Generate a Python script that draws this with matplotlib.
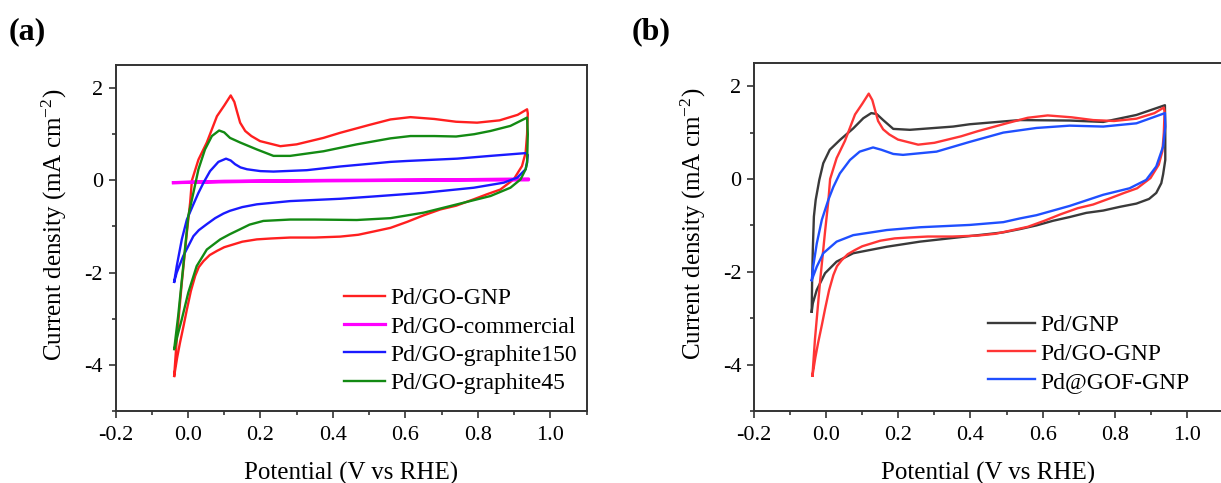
import numpy as np
import matplotlib
matplotlib.use("Agg")
import matplotlib.pyplot as plt
from matplotlib.ticker import MultipleLocator

plt.rcParams['font.family'] = ['Liberation Serif', 'DejaVu Serif']
plt.rcParams['mathtext.fontset'] = 'custom'
plt.rcParams['mathtext.rm'] = 'Liberation Serif'
plt.rcParams['mathtext.it'] = 'Liberation Serif:italic'
plt.rcParams['axes.unicode_minus'] = False

# ---- data (potential V vs RHE, current density mA cm-2)
# Pd/GO-GNP (same sample in both panels)
gnp_up_x = [-0.038, -0.031, -0.017, -0.003, 0.006, 0.011, 0.029, 0.052, 0.080, 0.100,
            0.118, 0.128, 0.135, 0.144, 0.158, 0.175, 0.199, 0.255, 0.300, 0.374,
            0.420, 0.500, 0.559, 0.614, 0.680, 0.740, 0.798, 0.860, 0.910, 0.936]
gnp_up_y = [-4.24, -3.45, -2.22, -1.13, -0.48, 0.00, 0.45, 0.82, 1.39, 1.62,
            1.84, 1.70, 1.50, 1.25, 1.07, 0.96, 0.85, 0.74, 0.78, 0.92,
            1.03, 1.20, 1.32, 1.37, 1.33, 1.27, 1.25, 1.30, 1.42, 1.54]
gnp_dn_x = [0.938, 0.936, 0.932, 0.922, 0.899, 0.862, 0.826, 0.789, 0.740, 0.697,
            0.650, 0.605, 0.559, 0.512, 0.470, 0.420, 0.350, 0.282, 0.230, 0.190,
            0.150, 0.125, 0.100, 0.080, 0.060, 0.043, 0.030, 0.020, 0.008, -0.003,
            -0.012, -0.022, -0.030, -0.038]
gnp_dn_y = [1.45, 1.00, 0.60, 0.31, 0.02, -0.20, -0.30, -0.41, -0.55, -0.63,
            -0.76, -0.90, -1.03, -1.11, -1.18, -1.22, -1.24, -1.24, -1.26, -1.28,
            -1.33, -1.39, -1.45, -1.53, -1.62, -1.75, -1.88, -2.07, -2.40, -2.80,
            -3.15, -3.52, -3.85, -4.24]

# Pd/GO-commercial
com_x = [-0.040, 0.10, 0.40, 0.70, 0.940, 0.940, 0.60, 0.20, -0.040]
com_y = [-0.05, -0.02, 0.00, 0.01, 0.03, 0.01, 0.00, -0.02, -0.05]

# Pd/GO-graphite150
g150_up_x = [-0.038, -0.031, -0.017, -0.003, 0.015, 0.029, 0.043, 0.061, 0.084, 0.105,
             0.118, 0.130, 0.145, 0.163, 0.200, 0.236, 0.328, 0.420, 0.559, 0.605,
             0.743, 0.835, 0.932]
g150_up_y = [-2.20, -1.86, -1.28, -0.85, -0.52, -0.27, -0.05, 0.20, 0.40, 0.47,
             0.43, 0.35, 0.28, 0.24, 0.20, 0.19, 0.22, 0.30, 0.40, 0.42,
             0.47, 0.53, 0.59]
g150_dn_x = [0.938, 0.936, 0.932, 0.909, 0.872, 0.789, 0.651, 0.512, 0.420, 0.282,
             0.190, 0.150, 0.116, 0.098, 0.075, 0.052, 0.030, 0.015, -0.013, -0.031,
             -0.038]
g150_dn_y = [0.55, 0.40, 0.24, 0.06, -0.05, -0.16, -0.27, -0.35, -0.40, -0.45,
             -0.52, -0.58, -0.66, -0.72, -0.82, -0.95, -1.08, -1.21, -1.64, -2.00,
             -2.20]

# Pd/GO-graphite45
g45_up_x = [-0.038, -0.027, -0.013, 0.001, 0.015, 0.029, 0.047, 0.066, 0.086, 0.100,
            0.116, 0.144, 0.190, 0.236, 0.282, 0.374, 0.466, 0.559, 0.614, 0.680,
            0.740, 0.790, 0.835, 0.890, 0.936]
g45_up_y = [-3.66, -2.94, -1.86, -0.77, -0.27, 0.24, 0.67, 0.96, 1.08, 1.04,
            0.92, 0.82, 0.67, 0.53, 0.53, 0.63, 0.78, 0.91, 0.96, 0.96,
            0.95, 1.00, 1.07, 1.18, 1.36]
g45_dn_x = [0.938, 0.936, 0.932, 0.918, 0.890, 0.835, 0.743, 0.651, 0.559, 0.466,
            0.350, 0.282, 0.208, 0.170, 0.144, 0.115, 0.089, 0.052, 0.024, 0.001,
            -0.017, -0.030, -0.036]
g45_dn_y = [1.00, 0.38, 0.24, 0.02, -0.16, -0.34, -0.52, -0.70, -0.82, -0.86,
            -0.85, -0.85, -0.88, -0.96, -1.06, -1.17, -1.28, -1.50, -1.86, -2.43,
            -3.01, -3.40, -3.62]

# Pd/GNP
pg_up_x = [-0.040, -0.039, -0.037, -0.034, -0.029, -0.019, -0.008, 0.010, 0.038, 0.075,
           0.103, 0.125, 0.140, 0.158, 0.186, 0.232, 0.352, 0.398, 0.537, 0.675,
           0.768, 0.860, 0.939]
pg_up_y = [-2.86, -2.25, -1.53, -0.81, -0.45, -0.02, 0.34, 0.63, 0.84, 1.09,
           1.31, 1.42, 1.40, 1.27, 1.08, 1.06, 1.13, 1.18, 1.27, 1.26,
           1.23, 1.38, 1.59]
pg_dn_x = [0.940, 0.940, 0.934, 0.929, 0.915, 0.895, 0.860, 0.814, 0.768, 0.721,
           0.675, 0.629, 0.583, 0.537, 0.491, 0.445, 0.398, 0.260, 0.168, 0.075,
           0.029, -0.003, -0.026, -0.037, -0.040]
pg_dn_y = [1.13, 0.41, 0.10, -0.09, -0.30, -0.43, -0.53, -0.60, -0.68, -0.73,
           -0.82, -0.90, -1.00, -1.08, -1.15, -1.19, -1.23, -1.35, -1.46, -1.60,
           -1.78, -2.03, -2.39, -2.68, -2.86]

# Pd@GOF-GNP
gof_up_x = [-0.040, -0.036, -0.026, -0.012, 0.006, 0.020, 0.038, 0.066, 0.093, 0.130,
            0.153, 0.186, 0.213, 0.306, 0.398, 0.491, 0.583, 0.675, 0.768, 0.860,
            0.939]
gof_up_y = [-2.18, -1.89, -1.39, -0.88, -0.45, -0.17, 0.12, 0.41, 0.59, 0.68,
            0.63, 0.54, 0.52, 0.59, 0.80, 1.00, 1.10, 1.15, 1.13, 1.20,
            1.42]
gof_dn_x = [0.940, 0.934, 0.915, 0.887, 0.841, 0.768, 0.675, 0.583, 0.537, 0.491,
            0.398, 0.260, 0.168, 0.075, 0.029, -0.008, -0.026, -0.040]
gof_dn_y = [1.13, 0.70, 0.27, -0.02, -0.20, -0.34, -0.58, -0.78, -0.85, -0.93,
            -0.99, -1.04, -1.10, -1.21, -1.35, -1.60, -1.89, -2.18]

labels_a = ['Pd/GO-GNP', 'Pd/GO-commercial', 'Pd/GO-graphite150', 'Pd/GO-graphite45']
colors_a = ['#ff1f1f', '#ff00ff', '#1a1aff', '#138a13']
labels_b = ['Pd/GNP', 'Pd/GO-GNP', 'Pd@GOF-GNP']
colors_b = ['#3a3a3a', '#ff3535', '#1f4fff']


def loop(up_x, up_y, dn_x, dn_y):
    return np.array(up_x + dn_x), np.array(up_y + dn_y)


def style_axes(ax):
    ax.set_xlim(-0.2, 1.1)
    ax.set_ylim(-5, 2.5)
    ax.xaxis.set_major_locator(MultipleLocator(0.2))
    ax.xaxis.set_minor_locator(MultipleLocator(0.1))
    ax.yaxis.set_major_locator(MultipleLocator(2))
    ax.yaxis.set_minor_locator(MultipleLocator(1))
    ax.xaxis.set_major_formatter(plt.FuncFormatter(lambda v, p: f"{v:.1f}"))
    ax.yaxis.set_major_formatter(plt.FuncFormatter(lambda v, p: f"{v:.0f}"))
    ax.tick_params(which='both', direction='out', top=False, right=False,
                   labelsize=16, color='#333333', width=1.2)
    ax.tick_params(axis='x', pad=6)
    ax.tick_params(axis='y', pad=4)
    ax.tick_params(which='major', length=5)
    ax.tick_params(which='minor', length=3)
    for s in ax.spines.values():
        s.set_linewidth(1.4)
        s.set_color('#333333')
    ax.set_xlabel('Potential (V vs RHE)', fontsize=18, labelpad=12)
    ax.set_ylabel('Current density (mA cm$^{-2}$)', fontsize=18)
    ax.yaxis.set_label_coords(-0.099, 0.537)


fig = plt.figure(figsize=(12.21, 4.83), dpi=100)
ax_a = fig.add_axes([115.5 / 1221, 72 / 483, 471 / 1221, 346 / 483])
ax_b = fig.add_axes([754 / 1221, 72 / 483, 469 / 1221, 348 / 483])

curves_a = [loop(gnp_up_x, gnp_up_y, gnp_dn_x, gnp_dn_y),
            (np.array(com_x), np.array(com_y)),
            loop(g150_up_x, g150_up_y, g150_dn_x, g150_dn_y),
            loop(g45_up_x, g45_up_y, g45_dn_x, g45_dn_y)]
widths_a = [1.7, 2.3, 1.7, 1.7]
for (x, y), lab, c, w in zip(curves_a, labels_a, colors_a, widths_a):
    ax_a.plot(x, y, color=c, lw=w, label=lab)

curves_b = [loop(pg_up_x, pg_up_y, pg_dn_x, pg_dn_y),
            loop(gnp_up_x, gnp_up_y, gnp_dn_x, gnp_dn_y),
            loop(gof_up_x, gof_up_y, gof_dn_x, gof_dn_y)]
for (x, y), lab, c in zip(curves_b, labels_b, colors_b):
    ax_b.plot(x, y, color=c, lw=1.7, label=lab)

for ax in (ax_a, ax_b):
    style_axes(ax)

ax_a.legend(loc='upper left', bbox_to_anchor=(0.46, 0.39), frameon=False,
            fontsize=17, borderpad=0, handlelength=1.75, handletextpad=0.2,
            labelspacing=0.28)
ax_b.legend(loc='upper left', bbox_to_anchor=(0.474, 0.31), frameon=False,
            fontsize=17, borderpad=0, handlelength=2.0, handletextpad=0.2,
            labelspacing=0.28)

fig.text(9 / 1221, 1 - 32 / 483, '(a)', fontsize=23, fontweight='bold', va='center')
fig.text(632 / 1221, 1 - 32 / 483, '(b)', fontsize=23, fontweight='bold', va='center')

fig.savefig('out.png', dpi=100)
